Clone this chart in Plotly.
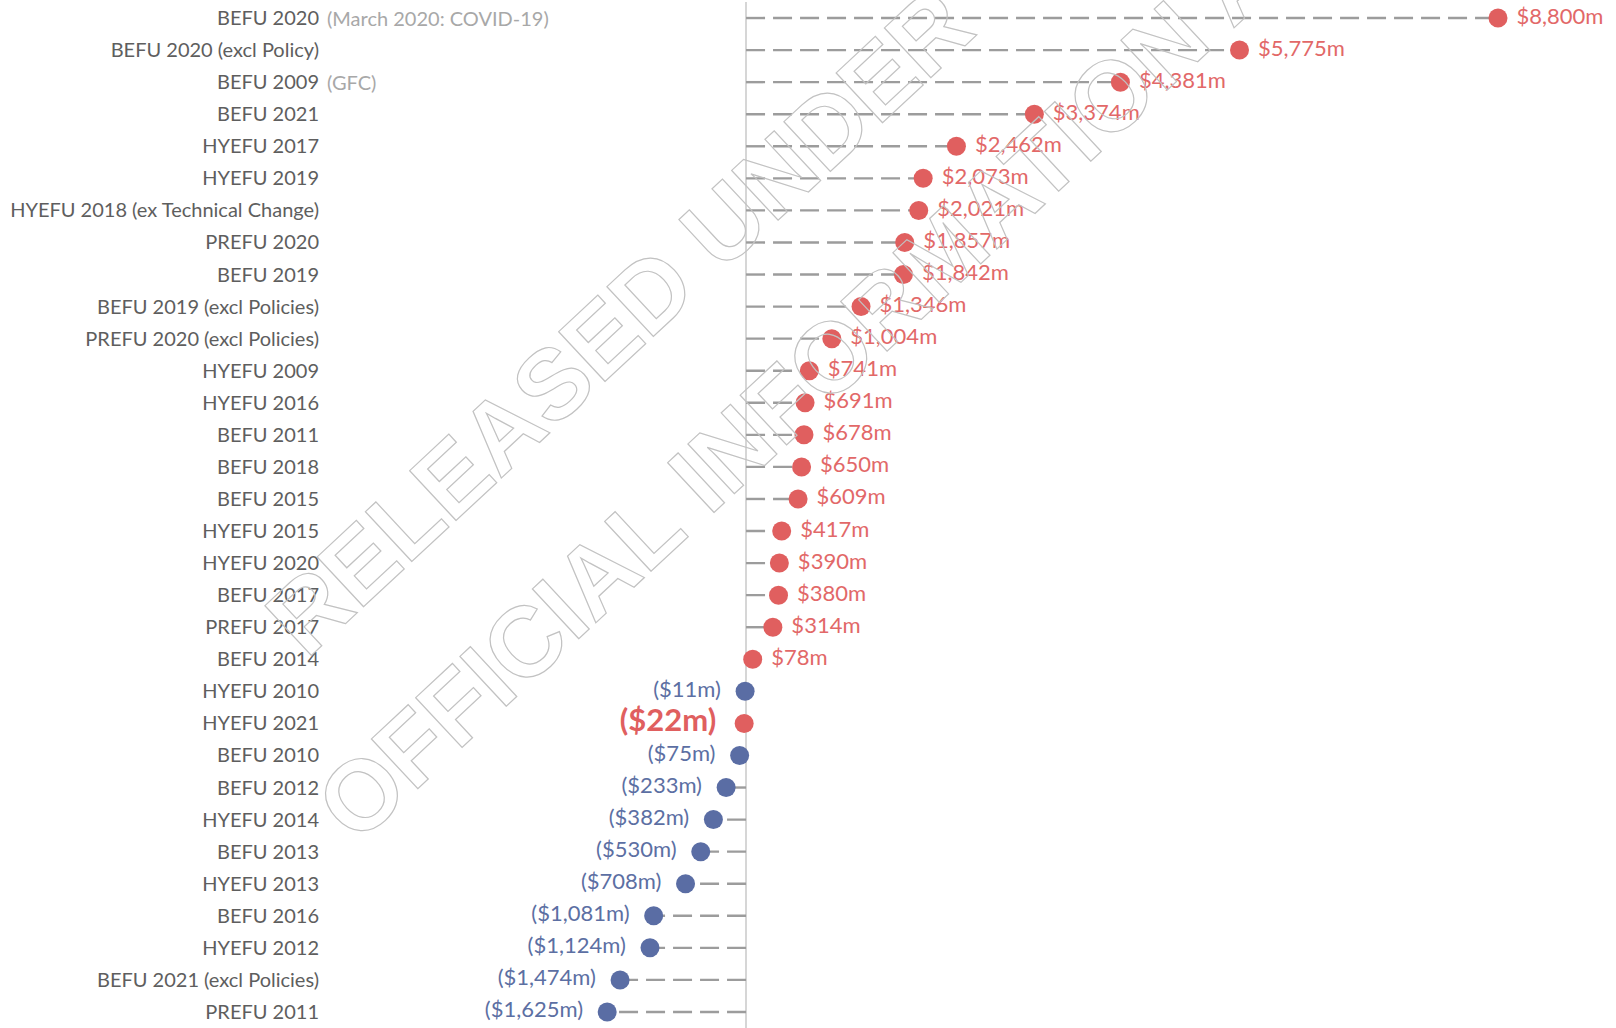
import json
import plotly.graph_objects as go

# Forecast revisions, top to bottom ($m)
categories = [
    "BEFU 2020", "BEFU 2020 (excl Policy)", "BEFU 2009", "BEFU 2021",
    "HYEFU 2017", "HYEFU 2019", "HYEFU 2018 (ex Technical Change)", "PREFU 2020",
    "BEFU 2019", "BEFU 2019 (excl Policies)", "PREFU 2020 (excl Policies)", "HYEFU 2009",
    "HYEFU 2016", "BEFU 2011", "BEFU 2018", "BEFU 2015",
    "HYEFU 2015", "HYEFU 2020", "BEFU 2017", "PREFU 2017",
    "BEFU 2014", "HYEFU 2010", "HYEFU 2021", "BEFU 2010",
    "BEFU 2012", "HYEFU 2014", "BEFU 2013", "HYEFU 2013",
    "BEFU 2016", "HYEFU 2012", "BEFU 2021 (excl Policies)", "PREFU 2011",
]
values = [
    8800, 5775, 4381, 3374,
    2462, 2073, 2021, 1857,
    1842, 1346, 1004, 741,
    691, 678, 650, 609,
    417, 390, 380, 314,
    78, -11, -22, -75,
    -233, -382, -530, -708,
    -1081, -1124, -1474, -1625,
]
notes = {"BEFU 2020": "(March 2020: COVID-19)", "BEFU 2009": "(GFC)"}
highlight = ["HYEFU 2021"]
watermark_lines = ["RELEASED UNDER THE", "OFFICIAL INFORMATION ACT"]

RED = "#E05F5F"
RED_TEXT = "#E26868"
BLUE = "#5A6DA4"
BLUE_TEXT = "#5C6FA3"
STEM = "#9C9C9C"
LABEL = "#5E5E5E"
NOTE = "#A8A8A8"
FONT = "Lato"


def money(v):
    return f"${v:,.0f}m" if v >= 0 else f"(${-v:,.0f}m)"


fig = go.Figure()

# dashed stems from zero out to each point
sx, sy = [], []
for c, v in zip(categories, values):
    sx += [0, v, None]
    sy += [c, c, None]
fig.add_trace(go.Scatter(
    x=sx, y=sy, mode="lines", hoverinfo="skip", showlegend=False,
    line=dict(color=STEM, width=2.4, dash="19px,8px"),
))

pos = [(c, v) for c, v in zip(categories, values) if v >= 0 and c not in highlight]
neg = [(c, v) for c, v in zip(categories, values) if v < 0 and c not in highlight]
hil = [(c, v) for c, v in zip(categories, values) if c in highlight]

fig.add_trace(go.Scatter(
    x=[v for _, v in pos], y=[c for c, _ in pos], mode="markers+text",
    text=[" " + money(v) for _, v in pos], textposition="middle right",
    textfont=dict(family=FONT, size=22, color=RED_TEXT),
    marker=dict(size=19, color=RED), showlegend=False, cliponaxis=False,
))
fig.add_trace(go.Scatter(
    x=[v for _, v in neg], y=[c for c, _ in neg], mode="markers+text",
    text=[money(v) + "  " for _, v in neg], textposition="middle left",
    textfont=dict(family=FONT, size=22, color=BLUE_TEXT),
    marker=dict(size=19, color=BLUE), showlegend=False, cliponaxis=False,
))
fig.add_trace(go.Scatter(
    x=[v for _, v in hil], y=[c for c, _ in hil], mode="markers+text",
    text=[money(v) + "  " for _, v in hil], textposition="middle left",
    textfont=dict(family=FONT, size=31, color=RED, weight="bold"),
    marker=dict(size=19, color=RED), showlegend=False, cliponaxis=False,
))

annotations = []
for c, note in notes.items():
    annotations.append(dict(
        x=0, xref="paper", xanchor="left", xshift=1, y=c, yref="y",
        text=note, showarrow=False, font=dict(family=FONT, size=20, color=NOTE),
    ))

# diagonal outlined watermark
for txt, (wx, wy) in zip(watermark_lines, [(0.292, 0.764), (0.404, 0.668)]):
    annotations.append(dict(
        x=wx, y=wy, xref="paper", yref="paper", text=txt, showarrow=False,
        textangle=-43, xanchor="center", yanchor="middle",
        font=dict(family="Liberation Sans", size=99, color="#C4C4C4", weight="bold"),
    ))

fig.update_layout(
    width=1616, height=1028,
    margin=dict(l=324, r=0, t=2, b=0),
    paper_bgcolor="white", plot_bgcolor="white",
    annotations=annotations,
    xaxis=dict(
        range=[-4939, 10181], showgrid=False, showticklabels=False, ticks="",
        zeroline=True, zerolinecolor="#D6D6D6", zerolinewidth=1.5, fixedrange=True,
    ),
    yaxis=dict(
        type="category", categoryorder="array", categoryarray=categories,
        range=[len(categories) - 0.5, -0.5], showgrid=False, ticks="",
        tickfont=dict(family=FONT, size=20, color=LABEL), ticklabelstandoff=4,
        fixedrange=True,
    ),
)

post_js = """
var gd = document.getElementById('{plot_id}');
var marks = %s;
gd.querySelectorAll('.annotation-text').forEach(function (t) {
  if (marks.indexOf(t.textContent) >= 0) {
    t.style.fill = 'none';
    t.style.stroke = '#C2C2C2';
    t.style.strokeWidth = '1.2px';
  }
});
""" % json.dumps(watermark_lines)

fig.write_html("out.html", post_script=post_js)
